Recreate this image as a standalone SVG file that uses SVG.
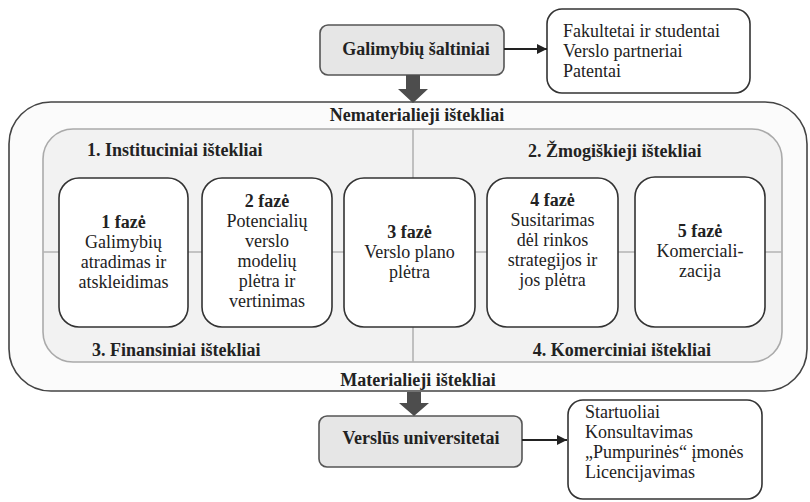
<svg xmlns="http://www.w3.org/2000/svg" width="810" height="502" viewBox="0 0 810 502">
<defs>
<marker id="ah" viewBox="0 0 10 10" refX="10" refY="5" markerWidth="5" markerHeight="5" orient="auto" markerUnits="strokeWidth">
<path d="M0,0 L10,5 L0,10 z" fill="#222"/>
</marker>
<style>
text{font-family:"Liberation Serif","Times New Roman",serif;font-size:18px;fill:#222}
.b{font-weight:bold}
.c{text-anchor:middle}
.phase{fill:#fff;stroke:#333;stroke-width:1.6}
.gray{fill:#e6e6e6;stroke:#555;stroke-width:1.6}
.list{fill:#fff;stroke:#333;stroke-width:1.6}
.div{stroke:#b3b3b3;stroke-width:1.6;fill:none}
.conn{stroke:#222;stroke-width:2;fill:none}
.big{fill:#4d4d4d}
</style>
</defs>
<rect width="810" height="502" fill="#fff"/>

<g id="resources">
<rect x="9" y="102" width="798" height="289" rx="42" fill="#fbfbfb" stroke="#444" stroke-width="1.6"/>
<rect x="43" y="129" width="739" height="233" rx="30" fill="#f2f2f2" stroke="#aaa" stroke-width="1.6"/>
<line class="div" x1="413" y1="129" x2="413" y2="362"/>
<line class="div" x1="43" y1="252" x2="782" y2="252"/>
<text class="b c" x="417" y="121">Nematerialieji ištekliai</text>
<text class="b c" x="418" y="386">Materialieji ištekliai</text>
<text class="b" x="87" y="156">1. Instituciniai ištekliai</text>
<text class="b" x="528" y="157">2. Žmogiškieji ištekliai</text>
<text class="b" x="92" y="356">3. Finansiniai ištekliai</text>
<text class="b" x="711" y="356" text-anchor="end">4. Komerciniai ištekliai</text>
</g>

<g id="phase1">
<rect class="phase" x="59" y="178" width="129" height="149" rx="20"/>
<text class="c" x="123.5" y="228"><tspan class="b">1 fazė</tspan><tspan x="123.5" dy="20">Galimybių</tspan><tspan x="123.5" dy="20">atradimas ir</tspan><tspan x="123.5" dy="20">atskleidimas</tspan></text>
</g>
<g id="phase2">
<rect class="phase" x="202" y="178" width="130" height="149" rx="20"/>
<text class="c" x="267" y="207"><tspan class="b">2 fazė</tspan><tspan x="267" dy="20">Potencialių</tspan><tspan x="267" dy="20">verslo</tspan><tspan x="267" dy="20">modelių</tspan><tspan x="267" dy="20">plėtra ir</tspan><tspan x="267" dy="20">vertinimas</tspan></text>
</g>
<g id="phase3">
<rect class="phase" x="344" y="178" width="131" height="149" rx="20"/>
<text class="c" x="409.5" y="238"><tspan class="b">3 fazė</tspan><tspan x="409.5" dy="20">Verslo plano</tspan><tspan x="409.5" dy="20">plėtra</tspan></text>
</g>
<g id="phase4">
<rect class="phase" x="487" y="178" width="131" height="149" rx="20"/>
<text class="c" x="552.5" y="206"><tspan class="b">4 fazė</tspan><tspan x="552.5" dy="20">Susitarimas</tspan><tspan x="552.5" dy="20">dėl rinkos</tspan><tspan x="552.5" dy="20">strategijos ir</tspan><tspan x="552.5" dy="20">jos plėtra</tspan></text>
</g>
<g id="phase5">
<rect class="phase" x="635" y="177" width="130" height="150" rx="20"/>
<text class="c" x="700" y="237"><tspan class="b">5 fazė</tspan><tspan x="700" dy="20">Komerciali-</tspan><tspan x="700" dy="20">zacija</tspan></text>
</g>

<g id="sources">
<rect class="gray" x="320" y="25" width="184" height="50" rx="8"/>
<text class="b c" x="416" y="55">Galimybių šaltiniai</text>
</g>
<g id="sourcesList">
<rect class="list" x="547" y="9" width="203" height="84" rx="15"/>
<text x="563" y="37">Fakultetai ir studentai<tspan x="563" dy="20">Verslo partneriai</tspan><tspan x="563" dy="20">Patentai</tspan></text>
</g>
<g id="entrepreneurial">
<rect class="gray" x="319" y="416" width="203" height="51" rx="8"/>
<text class="b c" x="421" y="444">Verslūs universitetai</text>
</g>
<g id="outcomes">
<rect class="list" x="568" y="400" width="194" height="99" rx="15"/>
<text x="585" y="418">Startuoliai<tspan x="585" dy="20">Konsultavimas</tspan><tspan x="585" dy="20">„Pumpurinės“ įmonės</tspan><tspan x="585" dy="20">Licencijavimas</tspan></text>
</g>

<g id="connectors">
<line class="conn" x1="504" y1="49" x2="547" y2="49" marker-end="url(#ah)"/>
<line class="conn" x1="522" y1="440" x2="567" y2="440" marker-end="url(#ah)"/>
<path class="big" d="M406,75 H420 V89 H428 L413,103 L398,89 H406 Z"/>
<path class="big" d="M407,392 H421 V403 H429 L414,416 L399,403 H407 Z"/>
</g>
</svg>
